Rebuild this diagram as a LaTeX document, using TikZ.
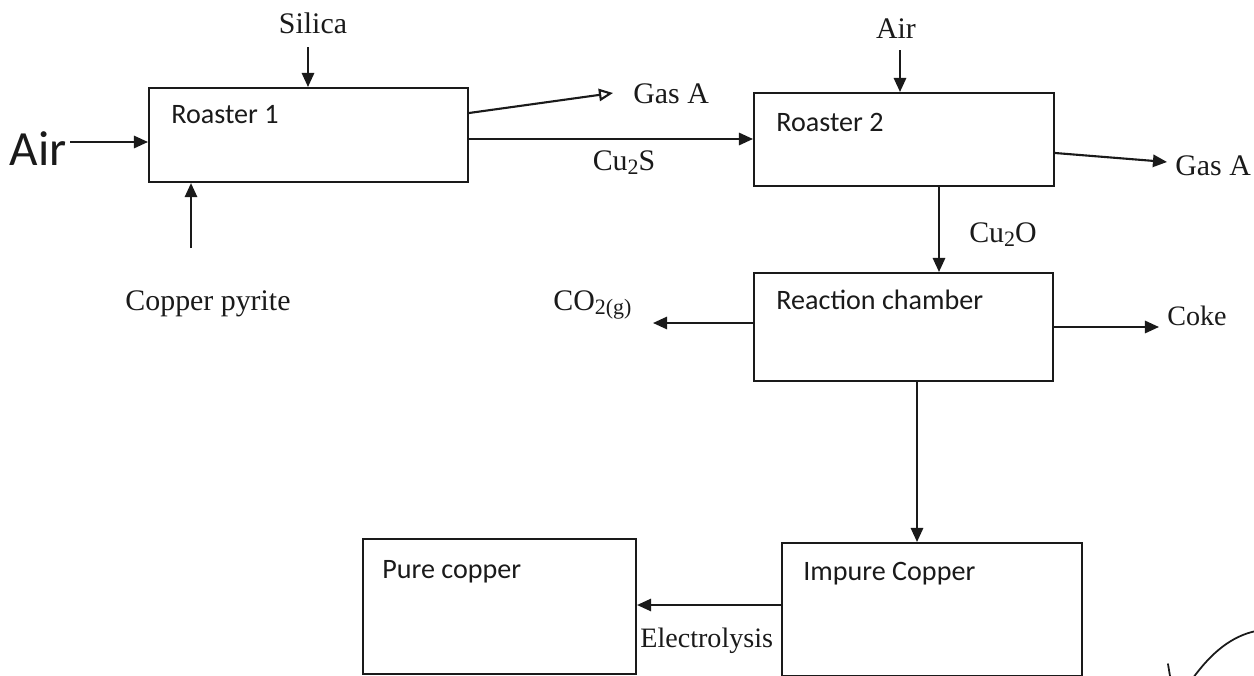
\documentclass[tikz,border=0pt]{standalone}
\usepackage{fontspec}
\setmainfont{Liberation Serif}
\newfontfamily\boxfont{Carlito}
\usepackage{xcolor}
\usetikzlibrary{arrows.meta}
\definecolor{scanink}{HTML}{1A1A1A}
\newcommand{\chemsub}[1]{\raisebox{-0.3ex}{\fontsize{12.5}{13}\selectfont #1}}

\begin{document}
\begin{tikzpicture}[
  x=0.02cm,
  y=-0.02cm,
  every node/.style={font=\fontsize{17}{20}\selectfont, scanink, inner sep=0pt},
  stage/.style={draw=scanink, line width=1.2pt, anchor=north west},
  stagetext/.style={font=\boxfont\fontsize{16}{19}\selectfont, anchor=north west},
  flow/.style={scanink, line width=1.2pt, -{Triangle[length=8pt, width=7pt]}},
  flowopen/.style={flow, -{Triangle[open, length=8pt, width=7pt]}},
  scrawl/.style={scanink, line width=1pt, line cap=round}
]
  % ---- page frame, same size as the scan ----
  \path[use as bounding box] (0,0) rectangle (1254,676);

  % ---- the five stages ----
  \node[stage, minimum width=6.38cm, minimum height=1.88cm] (roastA) at (148,87) {};
  \node[stage, minimum width=6.00cm, minimum height=1.86cm] (roastB) at (753,92) {};
  \node[stage, minimum width=5.98cm, minimum height=2.16cm] (react)  at (753,272) {};
  \node[stage, minimum width=6.00cm, minimum height=2.66cm] (impure) at (781,542) {};
  \node[stage, minimum width=5.46cm, minimum height=2.70cm] (pure)   at (362,538) {};

  \node[stagetext] (roastAtxt)  at (171,105) {Roaster 1};
  \node[stagetext] (roastBtxt)  at (776,113) {Roaster 2};
  \node[stagetext] (reacttxt)   at (776,290) {Reaction chamber};
  \node[stagetext] (impuretxt)  at (803,562) {Impure Copper};
  \node[stagetext] (puretxt)    at (382,560) {Pure copper};

  % ---- feeds and products ----
  \node[font=\boxfont\fontsize{28}{30}\selectfont, anchor=base] (handair) at (38,165) {Air};
  \node[anchor=base] (silica)  at (313,33)  {Silica};
  \node[anchor=base] (pyrite)  at (208,310) {Copper pyrite};
  \node[anchor=base] (airB)    at (896,38)  {Air};
  \node[anchor=base west] (gasA1) at (633,103) {Gas A};
  \node[anchor=base] (cuS)     at (624,170) {Cu\chemsub{2}S};
  \node[anchor=base west] (gasA2) at (1175,175) {Gas A};
  \node[anchor=base] (cuO)     at (1003,242) {Cu\chemsub{2}O};
  \node[anchor=base west] (cotwo) at (553,310) {CO\chemsub{2(g)}};
  \node[anchor=base west, font=\fontsize{16}{19}\selectfont] (coke) at (1167,325) {Coke};
  \node[anchor=base west, font=\fontsize{16}{19}\selectfont] (electro) at (640,647) {Electrolysis};

  % ---- free ends of the connectors ----
  \coordinate (airAin)   at (70,142);
  \coordinate (silicain) at (308,47);
  \coordinate (pyritein) at (191,248);
  \coordinate (airBin)   at (900,50);
  \coordinate (gasAout)  at (613,93);
  \coordinate (gasBout)  at (1167,162);
  \coordinate (cotwoout) at (653,323);
  \coordinate (cokeout)  at (1159,327);

  % ---- roaster 1 ----
  \draw[flow] (airAin) -- (airAin -| roastA.west);
  \draw[flow] (silicain) -- (silicain |- roastA.north);
  \draw[flow] (pyritein) -- (pyritein |- roastA.south);
  \draw[flowopen] (roastA.east |- 0,113) -- (gasAout);
  \draw[flow] (roastA.east |- 0,139) -- (roastB.west |- 0,139);

  % ---- roaster 2 ----
  \draw[flow] (airBin) -- (airBin |- roastB.north);
  \draw[flow] (roastB.east |- 0,153) -- (gasBout);
  \draw[flow] (roastB.south -| 939,0) -- (react.north -| 939,0);

  % ---- reaction chamber ----
  \draw[flow] (react.west |- cotwoout) -- (cotwoout);
  \draw[flow] (react.east |- cokeout) -- (cokeout);
  \draw[flow] (react.south -| 917,0) -- (impure.north -| 917,0);

  % ---- refining ----
  \draw[flow] (impure.west |- 0,605) -- (pure.east |- 0,605);

  % ---- pen marks in the corner ----
  \draw[scrawl] (1168,664) -- (1170,676);
  \draw[scrawl] (1193,678) .. controls (1212,652) and (1232,636) .. (1256,631);
\end{tikzpicture}
\end{document}
